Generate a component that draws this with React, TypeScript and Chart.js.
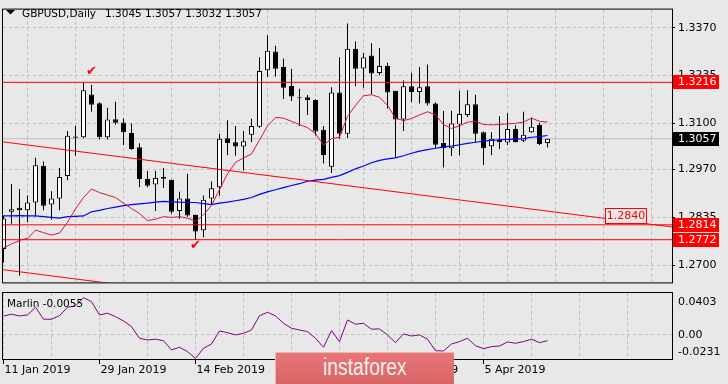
import React, { useEffect, useRef } from 'react';
import { Chart, registerables } from 'chart.js';

Chart.register(...registerables);

// ---------- data ----------
const symbol = 'GBPUSD';
const period = 'Daily';

const dates = ['11 Jan 2019', '29 Jan 2019', '14 Feb 2019', '4 Mar 2019', '20 Mar 2019', '5 Apr 2019'];
const dateIdx = [0, 12, 24, 36, 48, 60];
const gridIdx = [0, 6, 12, 18, 24, 30, 36, 42, 48, 54, 60, 66, 72, 78];

const opens = [
  1.2746, 1.2851, 1.2862, 1.2855, 1.2877, 1.2980, 1.2871, 1.2888, 1.2952, 1.3063,
  1.3061, 1.3182, 1.3157, 1.3061, 1.3112, 1.3103, 1.3073, 1.3033, 1.2944, 1.2928,
  1.2949, 1.2941, 1.2853, 1.2888, 1.2842, 1.2799, 1.2888, 1.2920, 1.3058, 1.3047,
  1.3035, 1.3068, 1.3091, 1.3250, 1.3303, 1.3260, 1.3206, 1.3174, 1.3174, 1.3166,
  1.3082, 1.2978, 1.3187, 1.3071, 1.3311, 1.3255, 1.3292, 1.3242, 1.3262, 1.3192,
  1.3111, 1.3205, 1.3189, 1.3205, 1.3156, 1.3045, 1.3030, 1.3097, 1.3124, 1.3154,
  1.3075, 1.3036, 1.3054, 1.3046, 1.3084, 1.3051, 1.3075, 1.3096, 1.3045,
];
const highs = [
  1.2840, 1.2929, 1.2915, 1.2897, 1.3003, 1.2993, 1.2909, 1.2974, 1.3079, 1.3093,
  1.3214, 1.3209, 1.3160, 1.3144, 1.3161, 1.3114, 1.3100, 1.3044, 1.2966, 1.2966,
  1.2974, 1.2942, 1.2907, 1.2958, 1.2843, 1.2897, 1.2936, 1.3071, 1.3109, 1.3093,
  1.3079, 1.3113, 1.3287, 1.3349, 1.3319, 1.3283, 1.3254, 1.3198, 1.3180, 1.3168,
  1.3093, 1.3202, 1.3287, 1.3382, 1.3331, 1.3299, 1.3326, 1.3313, 1.3271, 1.3192,
  1.3221, 1.3243, 1.3259, 1.3266, 1.3160, 1.3135, 1.3136, 1.3192, 1.3194, 1.3181,
  1.3077, 1.3075, 1.3120, 1.3129, 1.3095, 1.3133, 1.3117, 1.3102, 1.3057,
];
const lows = [
  1.2708, 1.2817, 1.2670, 1.2821, 1.2837, 1.2855, 1.2828, 1.2855, 1.2940, 1.3009,
  1.3058, 1.3133, 1.3055, 1.3055, 1.3096, 1.3039, 1.3026, 1.2920, 1.2920, 1.2853,
  1.2918, 1.2845, 1.2831, 1.2837, 1.2772, 1.2779, 1.2870, 1.2896, 1.3010, 1.3009,
  1.2967, 1.3048, 1.3088, 1.3232, 1.3232, 1.3169, 1.3163, 1.3093, 1.3124, 1.3066,
  1.2987, 1.2960, 1.3057, 1.3059, 1.3205, 1.3201, 1.3183, 1.3236, 1.3142, 1.3003,
  1.3079, 1.3160, 1.3156, 1.3151, 1.3031, 1.2976, 1.3008, 1.3010, 1.3118, 1.3048,
  1.2983, 1.3010, 1.3028, 1.3039, 1.3046, 1.3048, 1.3074, 1.3039, 1.3032,
];
const closes = [
  1.2832, 1.2858, 1.2855, 1.2877, 1.2982, 1.2868, 1.2888, 1.2949, 1.3065, 1.3060,
  1.3194, 1.3153, 1.3061, 1.3111, 1.3102, 1.3075, 1.3028, 1.2943, 1.2924, 1.2946,
  1.2944, 1.2851, 1.2888, 1.2840, 1.2795, 1.2885, 1.2917, 1.3057, 1.3045, 1.3035,
  1.3050, 1.3093, 1.3248, 1.3305, 1.3254, 1.3201, 1.3176, 1.3171, 1.3166, 1.3077,
  1.3010, 1.3187, 1.3071, 1.3311, 1.3254, 1.3286, 1.3241, 1.3262, 1.3187, 1.3111,
  1.3205, 1.3189, 1.3202, 1.3156, 1.3040, 1.3030, 1.3100, 1.3127, 1.3154, 1.3071,
  1.3030, 1.3057, 1.3048, 1.3084, 1.3048, 1.3068, 1.3091, 1.3042, 1.3057,
];

const maRed = [
  1.2749, 1.2760, 1.2770, 1.2776, 1.2799, 1.2792, 1.2785, 1.2791, 1.2821, 1.2859,
  1.2891, 1.2915, 1.2905, 1.2898, 1.2891, 1.2875, 1.2860, 1.2846, 1.2826, 1.2830,
  1.2837, 1.2835, 1.2837, 1.2833, 1.2824, 1.2842, 1.2869, 1.2913, 1.2958, 1.2990,
  1.3003, 1.3014, 1.3053, 1.3093, 1.3117, 1.3115, 1.3106, 1.3097, 1.3088, 1.3071,
  1.3039, 1.3057, 1.3061, 1.3120, 1.3151, 1.3178, 1.3181, 1.3174, 1.3151, 1.3115,
  1.3108, 1.3114, 1.3124, 1.3133, 1.3124, 1.3097, 1.3086, 1.3093, 1.3104, 1.3106,
  1.3097, 1.3096, 1.3097, 1.3099, 1.3100, 1.3104, 1.3115, 1.3106, 1.3104,
];
const maBlue = [
  1.2839, 1.2839, 1.2840, 1.2839, 1.2839, 1.2837, 1.2835, 1.2833, 1.2837, 1.2838,
  1.2839, 1.2851, 1.2855, 1.2860, 1.2864, 1.2868, 1.2871, 1.2873, 1.2875, 1.2878,
  1.2880, 1.2879, 1.2878, 1.2877, 1.2877, 1.2874, 1.2871, 1.2875, 1.2878, 1.2882,
  1.2886, 1.2891, 1.2900, 1.2907, 1.2913, 1.2919, 1.2925, 1.2930, 1.2937, 1.2940,
  1.2942, 1.2948, 1.2953, 1.2962, 1.2972, 1.2980, 1.2989, 1.2996, 1.3000, 1.3003,
  1.3009, 1.3016, 1.3022, 1.3026, 1.3030, 1.3034, 1.3036, 1.3040, 1.3044, 1.3047,
  1.3050, 1.3052, 1.3054, 1.3055, 1.3056, 1.3057, 1.3061, 1.3063, 1.3066,
];
const marlin = [
  0.0183, 0.0199, 0.0183, 0.0192, 0.0266, 0.0151, 0.0151, 0.0185, 0.0266, 0.0279,
  0.0358, 0.0320, 0.0192, 0.0209, 0.0176, 0.0135, 0.0080, -0.0032, -0.0048, -0.0041,
  -0.0055, -0.0144, -0.0118, -0.0160, -0.0225, -0.0128, -0.0087, 0.0038, 0.0022, 0.0000,
  0.0016, 0.0048, 0.0185, 0.0218, 0.0183, 0.0112, 0.0064, 0.0048, 0.0032, -0.0032,
  -0.0118, 0.0041, -0.0064, 0.0144, 0.0103, 0.0112, 0.0055, 0.0058, 0.0000, -0.0074,
  0.0010, -0.0010, 0.0000, -0.0041, -0.0151, -0.0154, -0.0087, -0.0064, -0.0032, -0.0103,
  -0.0132, -0.0112, -0.0106, -0.0067, -0.0080, -0.0064, -0.0041, -0.0074, -0.0055,
];

const priceTicks = [1.2700, 1.2835, 1.2970, 1.3100, 1.3235, 1.3370];
const resistanceLevel = 1.3216;
const supportLevels = [1.2814, 1.2772];
const trendUpper = [1.3048, 1.2808]; // price at left edge, price at right edge
const trendLower = [1.26874, 1.24468];
const checkMarks = [
  { x: 11, y: 1.3246 },
  { x: 24, y: 1.2755 },
];
const levelNote = { x: 77.8, y: 1.2840, text: '1.2840' };

const marlinTickValues = [0.0403, 0.0, -0.0231];
const marlinTickLabels = ['0.0403', '0.00', '-0.0231'];

const watermark = 'instaforex';

// ---------- styling ----------
const BG = '#e8e8e8';
const GRID = '#bdbdbd';
const FONT = 'DejaVu Sans';
const X_MIN = -0.0625;
const X_MAX = 83.5625;
const Y_MIN = 1.265156;
const Y_MAX = 1.342121;

const lastIdx = closes.length - 1;
const lastClose = closes[lastIdx];

const hline = (v: number, color: string, order: number) => ({
  type: 'line',
  data: [{ x: X_MIN, y: v }, { x: X_MAX, y: v }],
  borderColor: color,
  borderWidth: 1,
  pointRadius: 0,
  order,
});

const mainDecor = {
  id: 'mainDecor',
  afterDraw(chart: any) {
    const { ctx, chartArea: a, scales } = chart;
    const x = scales.x;
    const y = scales.y;
    ctx.save();
    // frame
    ctx.strokeStyle = '#000';
    ctx.lineWidth = 1;
    ctx.strokeRect(a.left - 0.5, a.top - 0.5, a.right - a.left + 1, a.bottom - a.top + 1);

    // title
    ctx.fillStyle = '#000';
    ctx.beginPath();
    ctx.moveTo(6, 10);
    ctx.lineTo(15, 10);
    ctx.lineTo(10.5, 14.5);
    ctx.closePath();
    ctx.fill();
    ctx.font = `10.5px "${FONT}"`;
    ctx.textAlign = 'left';
    ctx.textBaseline = 'alphabetic';
    const head = `${symbol},${period}`;
    ctx.fillText(head, 22, 16.7);
    const ohlc = [opens[lastIdx], highs[lastIdx], lows[lastIdx], closes[lastIdx]].map((v) => v.toFixed(4)).join(' ');
    ctx.fillText(ohlc, 22 + ctx.measureText(head).width + 9, 16.7);

    // check marks
    ctx.save();
    ctx.beginPath();
    ctx.rect(a.left, a.top, a.right - a.left, a.bottom - a.top);
    ctx.clip();
    ctx.fillStyle = '#ff0000';
    ctx.font = `13px "${FONT}"`;
    ctx.textAlign = 'center';
    ctx.textBaseline = 'middle';
    checkMarks.forEach((m) => {
      ctx.fillText('\u2714', x.getPixelForValue(m.x), y.getPixelForValue(m.y));
    });

    // level note box
    ctx.font = `11px "${FONT}"`;
    const lx = x.getPixelForValue(levelNote.x);
    const ly = y.getPixelForValue(levelNote.y);
    const w = Math.round(ctx.measureText(levelNote.text).width + 4);
    const bx = Math.round(lx - w / 2);
    const by = Math.round(ly - 8);
    ctx.fillStyle = BG;
    ctx.fillRect(bx, by, w, 16);
    ctx.strokeStyle = '#ff0000';
    ctx.strokeRect(bx + 0.5, by + 0.5, w - 1, 15);
    ctx.fillStyle = '#ff0000';
    ctx.fillText(levelNote.text, lx, ly + 0.5);
    ctx.restore();

    // price boxes on the axis
    const boxes = [
      { v: resistanceLevel, bg: '#ff0000' },
      { v: lastClose, bg: '#000000' },
      { v: supportLevels[0], bg: '#ff0000' },
      { v: supportLevels[1], bg: '#ff0000' },
    ];
    ctx.font = `11px "${FONT}"`;
    ctx.textAlign = 'left';
    ctx.textBaseline = 'middle';
    boxes.forEach((b) => {
      const py = y.getPixelForValue(b.v);
      ctx.fillStyle = b.bg;
      ctx.fillRect(a.right + 1, Math.round(py) - 7, 46, 14);
      ctx.fillStyle = '#ffffff';
      ctx.fillText(b.v.toFixed(4), a.right + 6, Math.round(py));
    });
    ctx.restore();
  },
};

const oscDecor = {
  id: 'oscDecor',
  afterDraw(chart: any) {
    const { ctx, chartArea: a, scales } = chart;
    const y = scales.y;
    ctx.save();
    ctx.strokeStyle = '#000';
    ctx.lineWidth = 1;
    ctx.strokeRect(a.left - 0.5, a.top - 0.5, a.right - a.left + 1, a.bottom - a.top + 1);
    ctx.fillStyle = '#000';
    ctx.font = `11px "${FONT}"`;
    ctx.textAlign = 'left';
    ctx.textBaseline = 'middle';
    marlinTickValues.forEach((v, k) => {
      let py = y.getPixelForValue(v);
      if (k === 0) py += 8.7;
      if (k === marlinTickValues.length - 1) py -= 6.7;
      ctx.fillText(marlinTickLabels[k], a.right + 6, py);
    });
    ctx.font = `10.5px "${FONT}"`;
    ctx.textBaseline = 'alphabetic';
    ctx.fillText(`Marlin ${marlin[marlin.length - 1].toFixed(4)}`, 7, a.top + 14.3);
    ctx.restore();
  },
};

export default function App() {
  const mainRef = useRef<HTMLCanvasElement>(null);
  const oscRef = useRef<HTMLCanvasElement>(null);

  useEffect(() => {
    document.body.style.margin = '0';
    const idx = opens.map((_, i) => i);

    const main = new Chart(mainRef.current as HTMLCanvasElement, {
      type: 'bar',
      data: {
        datasets: [
          hline(lastClose, '#c0c0c0', 20),
          {
            type: 'bar',
            data: idx.map((i) => ({ x: i, y: [lows[i], highs[i]] })),
            backgroundColor: '#000000',
            borderWidth: 0,
            barThickness: 1,
            maxBarThickness: 1,
            barPercentage: 1,
            grouped: false,
            inflateAmount: 0,
            order: 12,
          },
          {
            type: 'bar',
            data: idx.map((i) => ({ x: i, y: [opens[i], closes[i]] })),
            backgroundColor: idx.map((i) => (closes[i] >= opens[i] ? '#ffffff' : '#000000')),
            borderColor: '#000000',
            borderWidth: 1,
            borderSkipped: false,
            barThickness: 5,
            maxBarThickness: 5,
            barPercentage: 1,
            grouped: false,
            inflateAmount: 0,
            minBarLength: 1,
            order: 11,
          },
          {
            type: 'line',
            data: idx.map((i) => ({ x: i, y: maBlue[i] })),
            borderColor: '#0000ff',
            borderWidth: 1.2,
            pointRadius: 0,
            order: 6,
          },
          {
            type: 'line',
            data: idx.map((i) => ({ x: i, y: maRed[i] })),
            borderColor: '#dc143c',
            borderWidth: 1,
            pointRadius: 0,
            order: 5,
          },
          hline(resistanceLevel, '#ff0000', 3),
          hline(supportLevels[0], '#ff0000', 3),
          hline(supportLevels[1], '#ff0000', 3),
          {
            type: 'line',
            data: [{ x: X_MIN, y: trendUpper[0] }, { x: X_MAX, y: trendUpper[1] }],
            borderColor: '#ff0000',
            borderWidth: 1,
            pointRadius: 0,
            order: 2,
          },
          {
            type: 'line',
            data: [{ x: X_MIN, y: trendLower[0] }, { x: X_MAX, y: trendLower[1] }],
            borderColor: '#ff0000',
            borderWidth: 1,
            pointRadius: 0,
            order: 2,
          },
        ] as any,
      },
      options: {
        animation: false,
        responsive: false,
        devicePixelRatio: 1,
        events: [],
        layout: { padding: { left: 3, top: 3, right: 0, bottom: 3 } },
        plugins: { legend: { display: false }, tooltip: { enabled: false } },
        scales: {
          x: {
            type: 'linear',
            min: X_MIN,
            max: X_MAX,
            offset: false,
            afterBuildTicks: (s: any) => {
              s.ticks = gridIdx.map((v) => ({ value: v }));
            },
            afterFit: (s: any) => {
              s.height = 0;
            },
            ticks: { display: false },
            grid: { color: GRID, lineWidth: 1, drawTicks: false },
            border: { display: false, dash: [3, 3] },
          },
          y: {
            type: 'linear',
            position: 'right',
            min: Y_MIN,
            max: Y_MAX,
            afterBuildTicks: (s: any) => {
              s.ticks = priceTicks.map((v) => ({ value: v }));
            },
            afterFit: (s: any) => {
              s.width = 56;
            },
            ticks: {
              autoSkip: false,
              padding: 3,
              color: '#000000',
              font: { family: FONT, size: 11 },
              callback: (v: any) => Number(v).toFixed(4),
            },
            grid: { color: GRID, lineWidth: 1, drawTicks: true, tickLength: 3, tickColor: '#000000' },
            border: { display: false, dash: [3, 3] },
          },
        },
      } as any,
      plugins: [mainDecor],
    });

    const osc = new Chart(oscRef.current as HTMLCanvasElement, {
      type: 'line',
      data: {
        datasets: [
          {
            data: idx.map((i) => ({ x: i, y: marlin[i] })),
            borderColor: '#800080',
            borderWidth: 1,
            pointRadius: 0,
          },
        ],
      },
      options: {
        animation: false,
        responsive: false,
        devicePixelRatio: 1,
        events: [],
        layout: { padding: { left: 3, top: 3, right: 0, bottom: 0 } },
        plugins: { legend: { display: false }, tooltip: { enabled: false } },
        scales: {
          x: {
            type: 'linear',
            min: X_MIN,
            max: X_MAX,
            offset: false,
            afterBuildTicks: (s: any) => {
              s.ticks = gridIdx.map((v) => ({ value: v }));
            },
            afterFit: (s: any) => {
              s.height = 25;
            },
            ticks: {
              autoSkip: false,
              maxRotation: 0,
              minRotation: 0,
              align: 'start',
              padding: 0,
              labelOffset: 1,
              color: '#000000',
              font: { family: FONT, size: 11 },
              callback: (v: any) => {
                const k = dateIdx.indexOf(Number(v));
                return k >= 0 ? dates[k] : '';
              },
            },
            grid: {
              color: GRID,
              lineWidth: 1,
              drawTicks: true,
              tickLength: 5,
              tickColor: (c: any) => (c.tick && dateIdx.indexOf(c.tick.value) >= 0 ? '#000000' : 'rgba(0,0,0,0)'),
            },
            border: { display: false, dash: [3, 3] },
          },
          y: {
            type: 'linear',
            position: 'right',
            min: marlinTickValues[2],
            max: marlinTickValues[0],
            afterBuildTicks: (s: any) => {
              s.ticks = [{ value: marlinTickValues[1] }];
            },
            afterFit: (s: any) => {
              s.width = 56;
            },
            ticks: { display: false },
            grid: { color: GRID, lineWidth: 1, drawTicks: false },
            border: { display: false, dash: [3, 3] },
          },
        },
      } as any,
      plugins: [oscDecor],
    });

    return () => {
      main.destroy();
      osc.destroy();
    };
  }, []);

  return (
    <div
      style={{
        position: 'fixed',
        left: 0,
        top: 0,
        width: 728,
        height: 384,
        background: BG,
        overflow: 'hidden',
      }}
    >
      <canvas
        ref={mainRef}
        width={728}
        height={292}
        style={{ position: 'absolute', left: 0, top: 0, width: 728, height: 292 }}
      />
      <canvas
        ref={oscRef}
        width={728}
        height={94}
        style={{ position: 'absolute', left: 0, top: 290, width: 728, height: 94 }}
      />
      <div
        style={{
          position: 'absolute',
          left: 275,
          top: 352,
          width: 179,
          height: 32,
          boxSizing: 'border-box',
          background: 'linear-gradient(#e87676, #d86464)',
          borderLeft: '1px solid #f2b4b4',
          borderTop: '1px solid #f2b4b4',
          color: '#fbf0f0',
          fontFamily: '"Liberation Sans", Arial, sans-serif',
          fontSize: 23,
          lineHeight: '28px',
          textAlign: 'center',
          whiteSpace: 'nowrap',
        }}
      >
        <span style={{ display: 'inline-block', transform: 'scaleX(0.84)', transformOrigin: 'center' }}>
          {watermark}
        </span>
      </div>
    </div>
  );
}
